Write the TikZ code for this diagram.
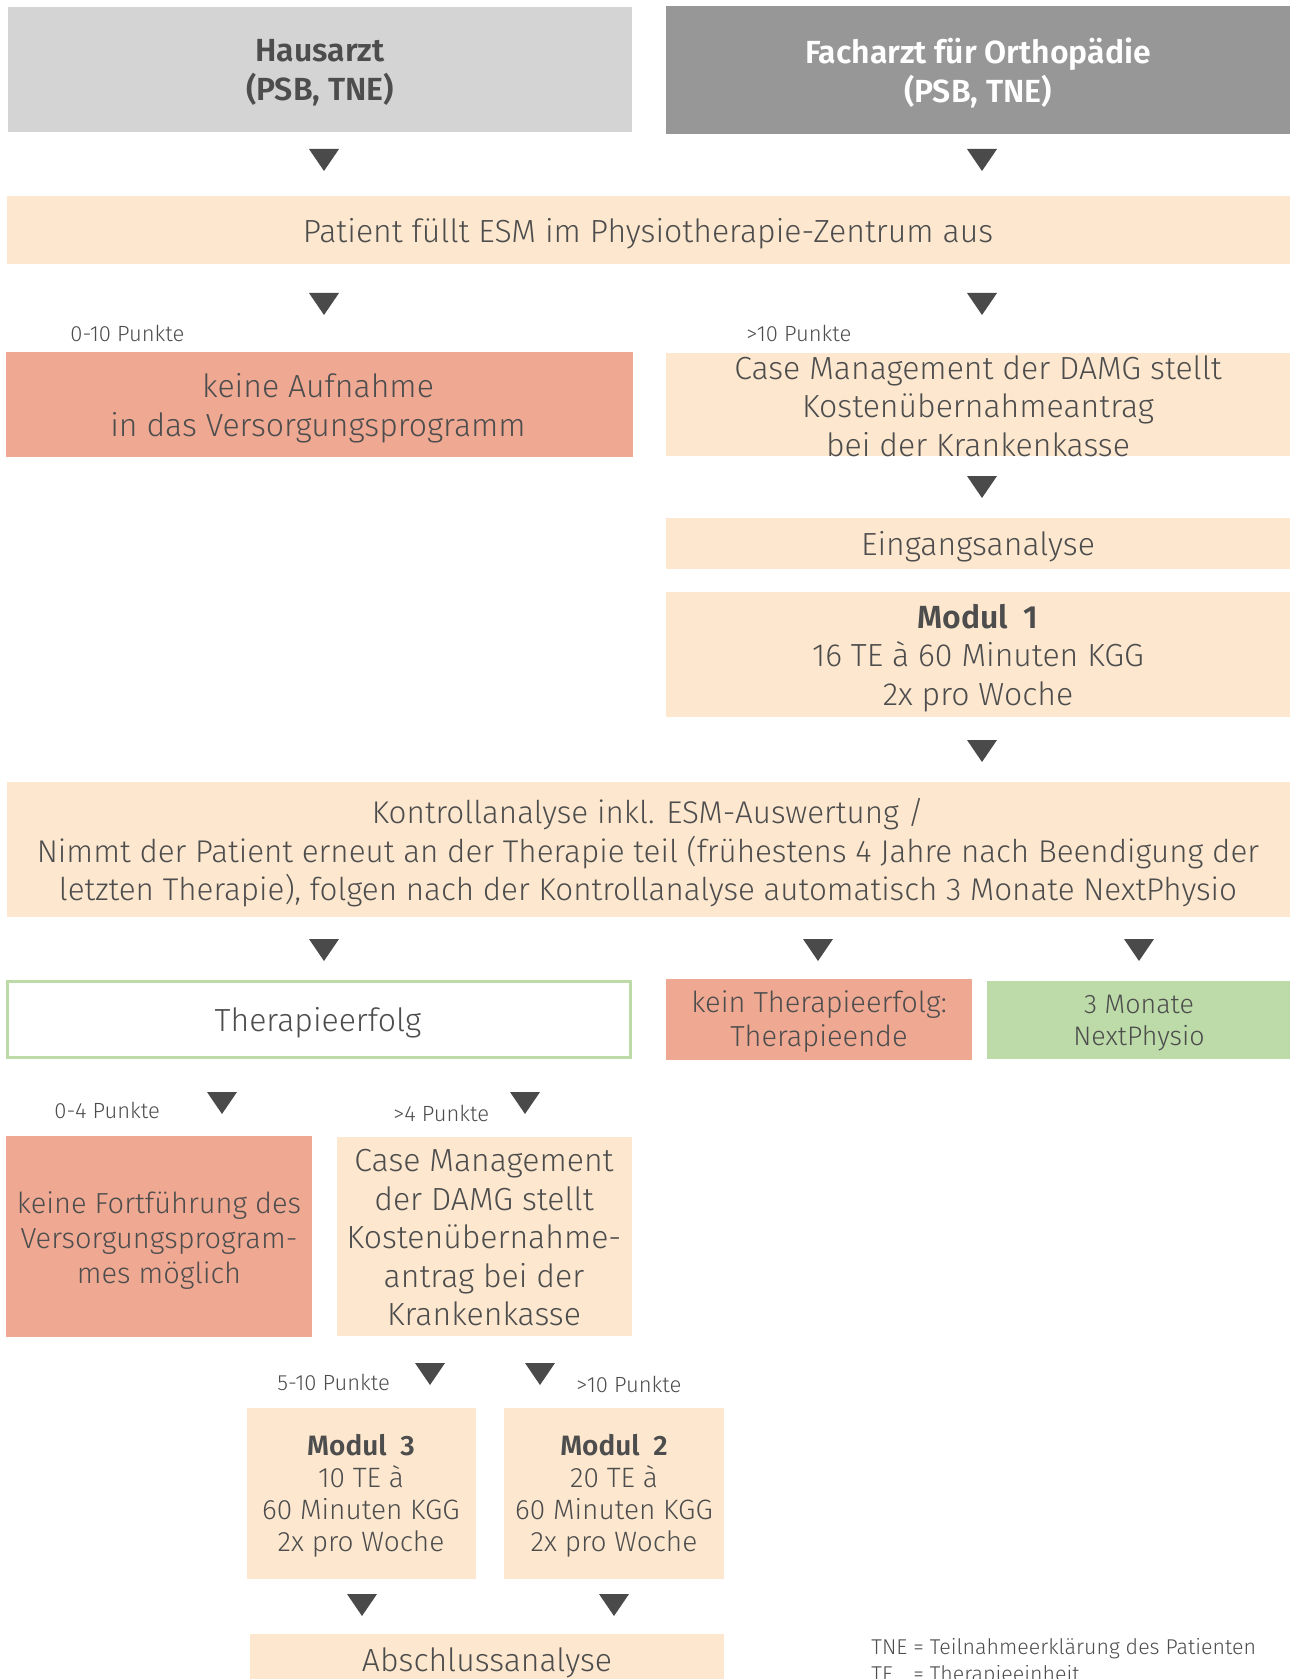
\documentclass[tikz,border=0pt]{standalone}
\usepackage{fontspec}
\IfFontExistsTF{Fira Sans Light}{\setmainfont{Fira Sans Light}[BoldFont={Fira Sans SemiBold}]}{\setmainfont{Fira Sans}}
\usetikzlibrary{fit}
\definecolor{txt}{HTML}{4D4D4D}
\definecolor{lgray}{HTML}{D4D4D4}
\definecolor{dgray}{HTML}{979797}
\definecolor{peach}{HTML}{FDE8CF}
\definecolor{salmon}{HTML}{EFA993}
\definecolor{green}{HTML}{BCDBA8}
\definecolor{arrc}{HTML}{4A4A4A}
\newcommand\downtri[2]{\fill[arrc] (#1-15,#2) -- (#1+15,#2) -- (#1,#2+22) -- cycle;}
\begin{document}
\begin{tikzpicture}[x=0.5pt,y=-0.5pt,
  bx/.style={inner sep=0pt, draw=none},
  tx/.style={inner sep=0pt, align=center, text=txt},
  mainf/.style={font=\fontsize{16}{19.25}\selectfont},
  ttlf/.style={font=\bfseries\fontsize{16}{19.5}\selectfont},
  sidef/.style={font=\fontsize{14.5}{17}\selectfont},
  modf/.style={font=\fontsize{14}{16}\selectfont},
  lblf/.style={font=\fontsize{11}{12}\selectfont, inner sep=0pt, text=txt},
]
\useasboundingbox (0,0) rectangle (1292,1679);
% row 1
\node[bx, fill=lgray, fit={(8,7)(632,132)}] (haus) {};
\node[tx, ttlf] (hausT) at (320,73) {Hausarzt\\(PSB, TNE)};
\node[bx, fill=dgray, fit={(666,6)(1290,134)}] (fach) {};
\node[tx, ttlf, text=white] (fachT) at (978,73) {Facharzt für Orthopädie\\(PSB, TNE)};
\downtri{324}{149}
\downtri{982}{149}
% patient
\node[bx, fill=peach, fit={(7,196)(1290,264)}] (pat) {};
\node[tx, mainf] (patT) at (648,234) {Patient füllt ESM im Physiotherapie-Zentrum aus};
\downtri{324}{293}
\downtri{982}{293}
\node[lblf, anchor=west] (l010) at (70,333) {0-10 Punkte};
\node[lblf, anchor=west] (l10) at (746,333) {>10 Punkte};
% row 3
\node[bx, fill=salmon, fit={(6,352)(633,457)}] (keine) {};
\node[tx, mainf] (keineT) at (318,408) {keine Aufnahme\\in das Versorgungsprogramm};
\node[bx, fill=peach, fit={(666,353)(1290,456)}] (case1) {};
\node[tx, mainf] (case1T) at (978,406) {Case Management der DAMG stellt\\Kostenübernahmeantrag\\bei der Krankenkasse};
\downtri{982}{476}
\node[bx, fill=peach, fit={(666,518)(1290,569)}] (eing) {};
\node[tx, mainf] (eingT) at (978,547) {Eingangsanalyse};
\node[bx, fill=peach, fit={(666,592)(1290,717)}] (mod1) {};
\node[tx, mainf] (mod1T) at (978,658) {\textbf{Modul\ \ 1}\\16 TE à 60 Minuten KGG\\2x pro Woche};
\downtri{982}{740}
% Kontrollanalyse
\node[bx, fill=peach, fit={(7,782)(1290,917)}] (kontr) {};
\node[tx, font=\fontsize{15.7}{19.25}\selectfont] (kontrT) at (648,853) {Kontrollanalyse inkl. ESM-Auswertung /\\Nimmt der Patient erneut an der Therapie teil (frühestens 4 Jahre nach Beendigung der\\letzten Therapie), folgen nach der Kontrollanalyse automatisch 3 Monate NextPhysio};
\downtri{324}{939}
\downtri{818}{939}
\downtri{1139}{939}
% row 5
\node[bx, fill=white, draw=green, line width=1.5pt, fit={(7.5,981.5)(630.5,1057.5)}] (erfolg) {};
\node[tx, mainf] (erfolgT) at (318,1023) {Therapieerfolg};
\node[bx, fill=salmon, fit={(666,979)(972,1060)}] (kein) {};
\node[tx, sidef] (keinT) at (819,1022) {kein Therapieerfolg:\\Therapieende};
\node[bx, fill=green, fit={(987,981)(1290,1059)}] (next) {};
\node[tx, font=\fontsize{13.4}{16}\selectfont] (nextT) at (1139,1023) {3 Monate\\NextPhysio};
% row 6
\node[lblf, anchor=west] (l04) at (54,1110) {0-4 Punkte};
\downtri{222}{1092}
\node[lblf, anchor=west] (l4) at (393,1113) {>4 Punkte};
\downtri{525}{1092}
\node[bx, fill=salmon, fit={(6,1136)(312,1337)}] (fort) {};
\node[tx, font=\fontsize{14.5}{17.5}\selectfont] (fortT) at (159,1241) {keine Fortführung des\\Versorgungsprogram-\\mes möglich};
\node[bx, fill=peach, fit={(337,1137)(632,1336)}] (case2) {};
\node[tx, mainf] (case2T) at (484,1238) {Case Management\\der DAMG stellt\\Kostenübernahme-\\antrag bei der\\Krankenkasse};
% row 7
\node[lblf, anchor=west] (l510) at (277,1382) {5-10 Punkte};
\downtri{430}{1363}
\downtri{540}{1363}
\node[lblf, anchor=west] (l10b) at (576,1384) {>10 Punkte};
\node[bx, fill=peach, fit={(247,1408)(476,1579)}] (mod3) {};
\node[tx, modf] (mod3T) at (361,1496) {\textbf{Modul\ \ 3}\\10 TE à\\60 Minuten KGG\\2x pro Woche};
\node[bx, fill=peach, fit={(504,1408)(724,1579)}] (mod2) {};
\node[tx, modf] (mod2T) at (614,1496) {\textbf{Modul\ \ 2}\\20 TE à\\60 Minuten KGG\\2x pro Woche};
\downtri{362}{1594}
\downtri{614}{1594}
\node[bx, fill=peach, fit={(250,1634)(724,1700)}] (absch) {};
\node[tx, mainf] (abschT) at (487,1663) {Abschlussanalyse};
% legend
\node[lblf, font=\fontsize{10.7}{12}\selectfont, anchor=north west, align=left] (leg) at (871,1637) {\begin{tabular}{@{}l@{ }l@{}}TNE & = Teilnahmeerklärung des Patienten\\[1.5pt] TE & = Therapieeinheit\end{tabular}};
\end{tikzpicture}
\end{document}
